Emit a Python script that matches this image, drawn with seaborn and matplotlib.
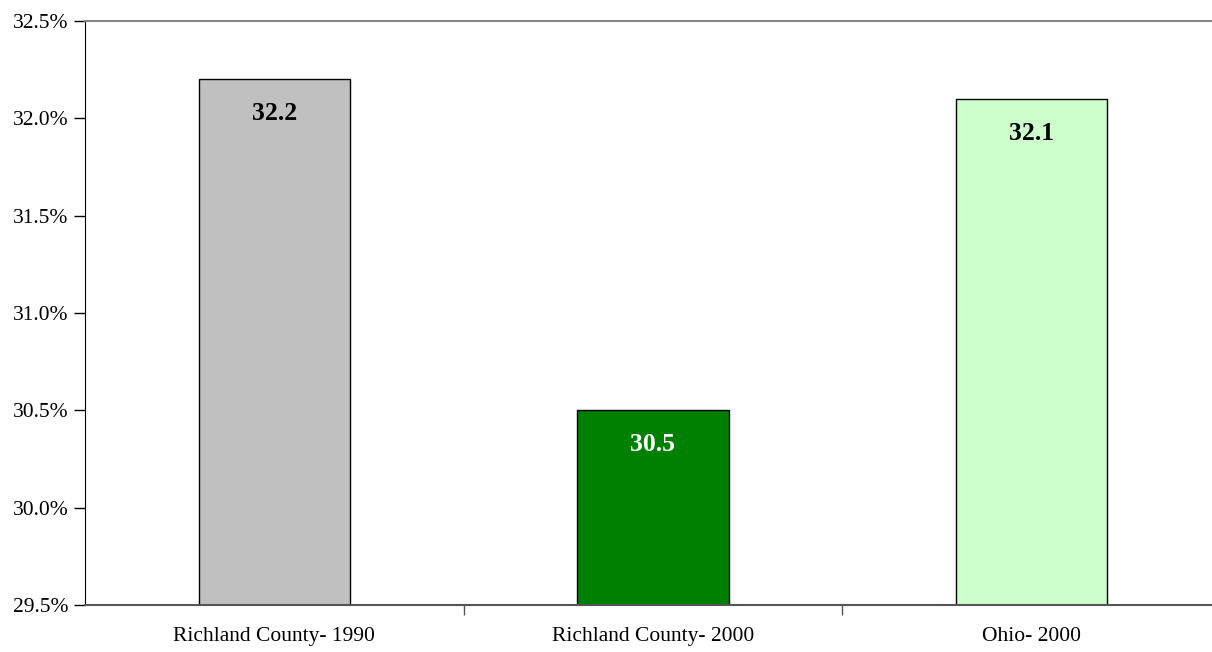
import matplotlib
matplotlib.use('Agg')
import matplotlib.pyplot as plt
import seaborn as sns
import pandas as pd
from matplotlib.ticker import FuncFormatter, FixedLocator

# 数据
categories = ['Richland County- 1990', 'Richland County- 2000', 'Ohio- 2000']
values = [32.2, 30.5, 32.1]
bar_colors = ['#C0C0C0', '#008000', '#CCFFCC']
label_colors = ['black', 'white', 'black']
y_ticks = [29.5, 30.0, 30.5, 31.0, 31.5, 32.0, 32.5]

df = pd.DataFrame({'cat': categories, 'val': values})

sns.set_style('white')
plt.rcParams['font.family'] = ['Liberation Serif', 'DejaVu Serif']

fig = plt.figure(figsize=(12.12, 6.52), dpi=100)
ax = fig.add_axes([0.0701, 0.0721, 0.9373, 0.8957])

sns.barplot(data=df, x='cat', y='val', hue='cat', palette=bar_colors, saturation=1,
            width=0.4, edgecolor='black', linewidth=1, legend=False, ax=ax)

ax.set_ylim(29.5, 32.5)
ax.set_xlim(-0.5, 2.5)
ax.set_yticks(y_ticks)
ax.yaxis.set_major_formatter(FuncFormatter(lambda v, p: '{:.1f}%'.format(v)))
ax.set_xlabel('')
ax.set_ylabel('')

# 数值标签放在柱内顶部
for cont, c in zip(ax.containers, label_colors):
    ax.bar_label(cont, fmt='%.1f', padding=-33, color=c, fontsize=18.5, fontweight='bold')

ax.tick_params(axis='y', which='major', direction='out', length=8, width=1,
               color='black', labelcolor='black', labelsize=15.5, left=True, pad=4)
ax.tick_params(axis='x', which='major', length=0, labelsize=15.5, labelcolor='black', pad=16)
ax.xaxis.set_minor_locator(FixedLocator([0.5, 1.5]))
ax.tick_params(axis='x', which='minor', direction='out', length=7, width=1,
               color='#555555', bottom=True)

ax.spines['left'].set_color('black')
ax.spines['bottom'].set_color('#555555')
ax.spines['bottom'].set_linewidth(1.5)
ax.spines['top'].set_color('#888888')
ax.spines['top'].set_linewidth(1.5)
ax.spines['right'].set_visible(False)

fig.savefig('out.png', dpi=100, facecolor='white')
